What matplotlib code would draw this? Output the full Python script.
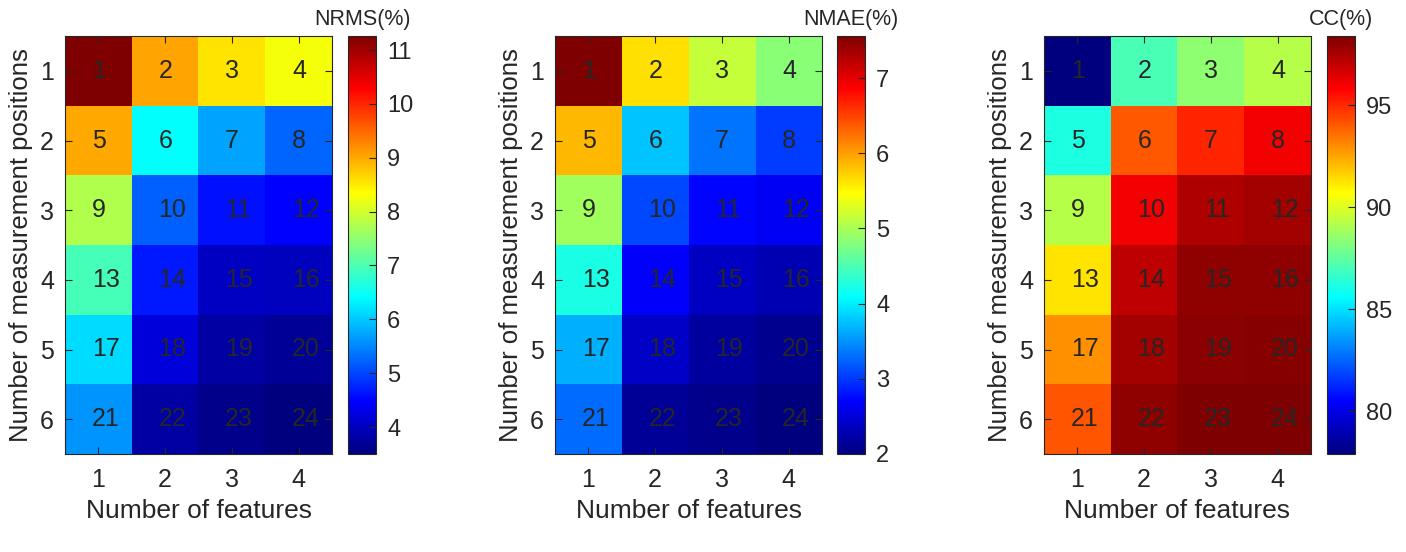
import numpy as np
import matplotlib
matplotlib.use("Agg")
import matplotlib.pyplot as plt
from matplotlib.colors import LinearSegmentedColormap

plt.rcParams['font.family'] = ['Liberation Sans', 'DejaVu Sans']

features = [1, 2, 3, 4]
positions = [1, 2, 3, 4, 5, 6]

nrms = [[11.26, 9.03, 8.55, 8.28],
        [9.00, 6.41, 5.73, 5.25],
        [7.77, 5.20, 4.60, 4.50],
        [6.94, 4.66, 4.04, 4.00],
        [6.15, 4.20, 3.80, 3.70],
        [5.60, 3.80, 3.60, 3.50]]

nmae = [[7.56, 5.64, 5.17, 4.84],
        [5.86, 3.78, 3.33, 3.04],
        [4.96, 3.10, 2.72, 2.65],
        [4.22, 2.68, 2.39, 2.30],
        [3.67, 2.40, 2.18, 2.10],
        [3.30, 2.15, 2.08, 2.00]]

cc = [[77.9, 87.1, 88.4, 89.2],
      [86.2, 94.0, 95.1, 96.0],
      [89.2, 96.0, 97.4, 97.6],
      [91.2, 97.1, 98.0, 98.0],
      [92.9, 97.6, 98.1, 98.2],
      [94.1, 98.0, 98.35, 98.4]]

titles = ['NRMS(%)', 'NMAE(%)', 'CC(%)']
cticks = [[4, 5, 6, 7, 8, 9, 10, 11], [2, 3, 4, 5, 6, 7], [80, 85, 90, 95]]

# matlab style jet
mjet = LinearSegmentedColormap.from_list('mjet', [
    (0.0, (0, 0, 0.5)), (0.125, (0, 0, 1)), (0.375, (0, 1, 1)),
    (0.625, (1, 1, 0)), (0.875, (1, 0, 0)), (1.0, (0.5, 0, 0))])

W, H = 1406, 552
fig = plt.figure(figsize=(W/100, H/100), dpi=100)
gray = '#262626'

ax_left = [65, 555, 1044]
cb_left = [348, 837, 1327]
top, bot = 36, 454

for k, data in enumerate([nrms, nmae, cc]):
    arr = np.array(data)
    ax = fig.add_axes([ax_left[k]/W, (H-bot)/H, 267/W, (bot-top)/H])
    im = ax.imshow(arr, cmap=mjet, aspect='auto', vmin=arr.min(), vmax=arr.max(),
                   interpolation='nearest')
    ax.set_xticks(range(len(features)))
    ax.set_xticklabels(features)
    ax.set_yticks(range(len(positions)))
    ax.set_yticklabels(positions)
    ax.tick_params(direction='in', length=5, labelsize=18, colors=gray,
                   top=True, right=True)
    ax.tick_params(axis='x', pad=10)
    ax.tick_params(axis='y', pad=8)
    for s in ax.spines.values():
        s.set_color(gray)
        s.set_linewidth(0.8)
    ax.set_xlabel('Number of features', fontsize=19, color=gray, labelpad=5)
    ax.set_ylabel('Number of measurement positions', fontsize=18.5, color=gray, labelpad=5)
    n = 1
    for i in range(len(positions)):
        for j in range(len(features)):
            ax.text(j - 0.1, i, str(n), ha='left', va='center', fontsize=18, color=gray)
            n += 1

    cax = fig.add_axes([cb_left[k]/W, (H-bot)/H, 28/W, (bot-top)/H])
    cb = fig.colorbar(im, cax=cax)
    cb.set_ticks(cticks[k])
    cb.ax.tick_params(direction='in', length=5, labelsize=17, colors=gray, width=0.8, pad=8)
    cb.outline.set_edgecolor(gray)
    cb.outline.set_linewidth(0.8)
    cb.ax.set_title(titles[k], fontsize=15.5, color=gray, pad=8)

fig.savefig('out.png', dpi=100)
